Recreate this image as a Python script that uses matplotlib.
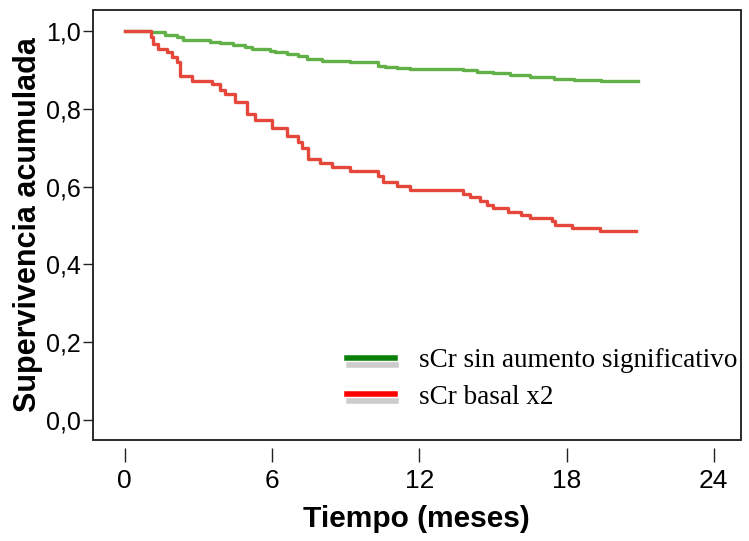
import matplotlib
matplotlib.use("Agg")
import matplotlib.pyplot as plt
import matplotlib.patheffects as pe
from matplotlib import font_manager as fm
from matplotlib.lines import Line2D
from matplotlib.patches import Rectangle

# Kaplan-Meier steps (months, cumulative survival)
t_sin = [0, 1.06, 1.63, 2.12, 2.37, 3.47, 3.88, 4.41, 4.90, 5.18, 5.92, 6.12,
         6.61, 7.06, 7.43, 8.04, 8.45, 9.18, 10.33, 10.61, 11.10, 11.63, 13.80,
         14.37, 15.02, 15.71, 16.53, 17.47, 18.29, 19.39, 20.90]
s_sin = [1.0, 0.997, 0.991, 0.985, 0.978, 0.973, 0.969, 0.965, 0.958, 0.954,
         0.949, 0.945, 0.941, 0.935, 0.928, 0.924, 0.922, 0.920, 0.911, 0.908,
         0.905, 0.902, 0.899, 0.895, 0.892, 0.887, 0.883, 0.876, 0.874, 0.871,
         0.871]

t_x2 = [0, 1.05, 1.14, 1.35, 1.71, 1.92, 2.12, 2.24, 2.73, 3.55, 3.88, 4.08,
        4.49, 4.98, 5.31, 6.00, 6.61, 7.06, 7.22, 7.47, 7.96, 8.45, 9.18, 10.33,
        10.53, 11.10, 11.63, 13.80, 14.08, 14.49, 14.78, 15.02, 15.63, 16.16,
        16.53, 17.39, 17.55, 18.24, 19.35, 20.82]
s_x2 = [1.0, 0.985, 0.966, 0.954, 0.946, 0.933, 0.920, 0.884, 0.871, 0.863,
        0.848, 0.838, 0.817, 0.786, 0.771, 0.750, 0.729, 0.714, 0.698, 0.670,
        0.660, 0.649, 0.639, 0.626, 0.611, 0.601, 0.590, 0.580, 0.572, 0.562,
        0.552, 0.544, 0.534, 0.526, 0.518, 0.510, 0.500, 0.492, 0.485, 0.485]

x_ticks = [0, 6, 12, 18, 24]
y_ticks = [0.0, 0.2, 0.4, 0.6, 0.8, 1.0]
y_ticklabels = ["0,0", "0,2", "0,4", "0,6", "0,8", "1,0"]
labels = ["sCr sin aumento significativo", "sCr basal x2"]

# narrow sans if we have it, plain Liberation Sans otherwise
installed = {f.name for f in fm.fontManager.ttflist}
narrow = "Liberation Sans Narrow" if "Liberation Sans Narrow" in installed else "Liberation Sans"

fig = plt.figure(figsize=(7.49, 5.41), dpi=100)
ax = fig.add_axes([0.124, 0.187, 0.865, 0.795])

ax.plot(t_sin, s_sin, drawstyle="steps-post", color="#62b048", lw=2.4)
ax.plot(t_x2, s_x2, drawstyle="steps-post", color="#e5483a", lw=2.4)

ax.set_xlim(-1.3, 25.1)
ax.set_ylim(-0.052, 1.055)

# box frame, ticks on x hang a bit below it
for s in ax.spines.values():
    s.set_color("none")
ax.spines["bottom"].set_position(("outward", 6))
ax.add_patch(Rectangle((0, 0), 1, 1, transform=ax.transAxes, fill=False,
                       lw=1.3, ec="#1a1a1a", clip_on=False, zorder=6))

ax.set_xticks(x_ticks)
ax.set_yticks(y_ticks)
ax.set_yticklabels(y_ticklabels)
ax.tick_params(axis="x", length=10, width=1, pad=5, labelsize=19, color="#222222")
ax.tick_params(axis="y", length=7, width=1, pad=2, labelsize=18, color="#222222")
for lab in ax.get_xticklabels() + ax.get_yticklabels():
    lab.set_family([narrow, "DejaVu Sans"])

ax.set_xlabel("Tiempo (meses)", fontsize=21.5, fontweight="bold",
              family=[narrow, "DejaVu Sans"], labelpad=9)
ax.set_ylabel("Supervivencia acumulada", fontsize=22, fontweight="bold",
              family=["Liberation Sans", "DejaVu Sans"], labelpad=2)

shadow = [pe.SimpleLineShadow(offset=(1, -5), shadow_color="k", alpha=0.2), pe.Normal()]
handles = [Line2D([], [], color="#0a820a", lw=4, path_effects=shadow),
           Line2D([], [], color="#ff0000", lw=4, path_effects=shadow)]
ax.legend(handles, labels, loc="upper left", bbox_to_anchor=(0.393, 0.213),
          frameon=False, prop={"family": "Liberation Serif", "size": 19.5},
          handlelength=1.75, handletextpad=0.9, labelspacing=0.42,
          borderaxespad=0, borderpad=0)

fig.savefig("out.png", dpi=100)
